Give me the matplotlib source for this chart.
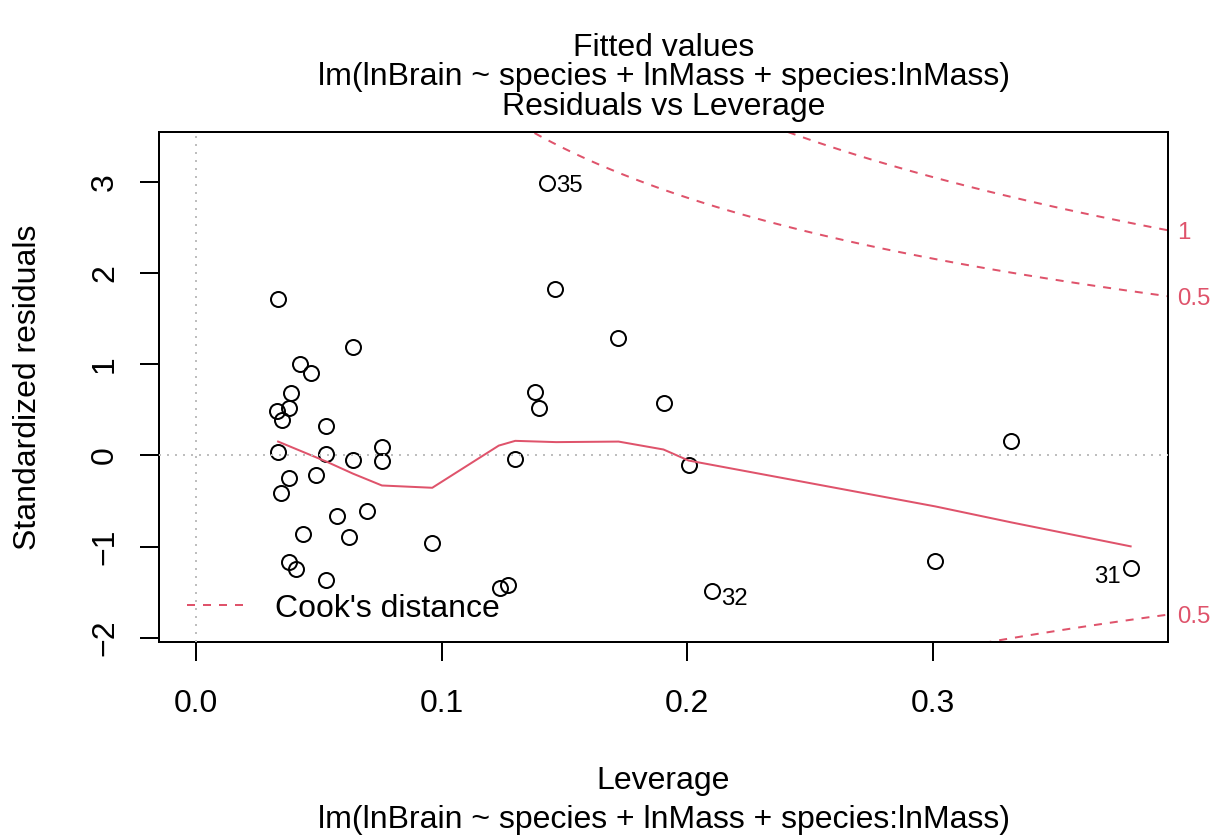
import numpy as np
import matplotlib
matplotlib.use("Agg")
import matplotlib.pyplot as plt
import matplotlib.transforms as mtransforms
from matplotlib.lines import Line2D

# Leverage (hat values) and standardized residuals of the fitted model
leverage = [0.1427, 0.1461, 0.0334, 0.0640, 0.0423, 0.0467, 0.1717, 0.1378,
            0.1396, 0.1903, 0.3320, 0.1300, 0.2005, 0.3011, 0.3806, 0.1237,
            0.1269, 0.2099, 0.0384, 0.0330, 0.0376, 0.0349, 0.0529, 0.0332,
            0.0529, 0.0640, 0.0756, 0.0756, 0.0376, 0.0489, 0.0346, 0.0574,
            0.0695, 0.0621, 0.0433, 0.0961, 0.0376, 0.0404, 0.0529]
std_resid = [2.985, 1.825, 1.715, 1.193, 1.000, 0.905, 1.291, 0.693,
             0.518, 0.573, 0.157, -0.037, -0.103, -1.162, -1.239, -1.450,
             -1.425, -1.483, 0.686, 0.489, 0.521, 0.390, 0.328, 0.036,
             0.018, -0.052, 0.091, -0.066, -0.245, -0.220, -0.410, -0.665,
             -0.607, -0.895, -0.859, -0.957, -1.165, -1.242, -1.370]

# Observation numbers of the most extreme points (index into the arrays above)
id_labels = {0: "35", 17: "32", 14: "31"}

# Lowess smooth through the residuals
smooth_lev = [0.0333, 0.0529, 0.0638, 0.0756, 0.0961, 0.1232, 0.1299,
              0.1466, 0.1720, 0.1903, 0.2005, 0.3011, 0.3320, 0.3806]
smooth_res = [0.152, -0.067, -0.200, -0.330, -0.355, 0.108, 0.160,
              0.146, 0.152, 0.065, -0.056, -0.560, -0.735, -0.998]

# Cook's distance contours
cook_levels = [0.5, 1.0]
n_params = 4

x_ticks = [0.0, 0.1, 0.2, 0.3]
x_tick_labels = ["0.0", "0.1", "0.2", "0.3"]
y_ticks = [-2, -1, 0, 1, 2, 3]
y_tick_labels = [str(v).replace("-", "\u2212") for v in y_ticks]

model_call = "lm(lnBrain ~ species + lnMass + species:lnMass)"
top_title = "Fitted values"
caption = "Residuals vs Leverage"
x_label = "Leverage"
y_label = "Standardized residuals"

RED = "#DF536B"
GRAY = "#BEBEBE"
DPI = 100
W, H = 1216, 836
PT = 72 / DPI            # points per pixel
FS = 32 * PT             # base text size
FS_ID = 24 * PT          # point-label size
LW = 2 * PT

plt.rcParams["font.family"] = ["Liberation Sans", "DejaVu Sans"]
plt.rcParams["axes.unicode_minus"] = True

fig = plt.figure(figsize=(W / DPI, H / DPI), dpi=DPI)
AX_L, AX_R, AX_T, AX_B = 159, 1168, 132, 642
ax = fig.add_axes([AX_L / W, 1 - AX_B / H, (AX_R - AX_L) / W, (AX_B - AX_T) / H])

# axis ranges following R's extendrange conventions
xmax = max(leverage)
ax.set_xlim(-0.04 * xmax, 1.04 * xmax)
r0, r1 = min(std_resid), max(std_resid)
e = 0.08 * (r1 - r0)
y0, y1 = r0 - e, r1 + e
e2 = 0.04 * (y1 - y0)
ax.set_ylim(y0 - e2, y1 + e2)

# points and smoother
ax.plot(leverage, std_resid, linestyle="none", marker="o", ms=15 * PT,
        mfc="none", mec="black", mew=LW, zorder=3)
ax.plot(smooth_lev, smooth_res, color=RED, lw=LW, zorder=3)

# reference lines
ax.axhline(0, color=GRAY, lw=LW, ls=(0, (1, 3)), dash_capstyle="butt", zorder=4)
ax.axvline(0, color=GRAY, lw=LW, ls=(0, (1, 3)), dash_capstyle="butt", zorder=4)

# Cook's distance contours
hh = np.linspace(min(min(leverage), max(leverage) / 100), ax.get_xlim()[1], 101)
for lvl in cook_levels:
    cl = np.sqrt(lvl * n_params * (1 - hh) / hh)
    ax.plot(hh, cl, color=RED, lw=LW, ls=(0, (4, 4)), dash_capstyle="butt", zorder=2)
    ax.plot(hh, -cl, color=RED, lw=LW, ls=(0, (4, 4)), dash_capstyle="butt", zorder=2)

# contour labels on the right margin
h_edge = ax.get_xlim()[1]
ylo, yhi = ax.get_ylim()
trans_r = mtransforms.blended_transform_factory(ax.transAxes, ax.transData)
for lvl in cook_levels:
    aty = np.sqrt(lvl * n_params * (1 - h_edge) / h_edge)
    for yv in (-aty, aty):
        if ylo <= yv <= yhi:
            ax.annotate(f"{lvl:g}", xy=(1, yv), xycoords=trans_r,
                        xytext=(9.5 * PT, -0.358 * FS_ID), textcoords="offset points",
                        ha="left", va="baseline", color=RED, fontsize=FS_ID,
                        annotation_clip=False)

# labels of the extreme observations: right of the point unless it lies in
# the right half of the labelled points' range
id_x = [leverage[i] for i in id_labels]
x_mid = 0.5 * (min(id_x) + max(id_x))
for idx, lab in id_labels.items():
    xv, yv = leverage[idx], std_resid[idx]
    dy = -6 * PT if yv < 0 else 0
    if xv > x_mid:
        dx, ha = -9.5 * PT, "right"
    else:
        dx, ha = 9.5 * PT, "left"
    ax.annotate(lab, xy=(xv, yv), xytext=(dx, dy - 0.358 * FS_ID),
                textcoords="offset points", ha=ha, va="baseline",
                fontsize=FS_ID, color="black", zorder=5)

# legend
handle = Line2D([], [], color=RED, lw=LW, ls=(0, (4, 4)), dash_capstyle="butt")
ax.legend([handle], ["Cook's distance"], loc="lower left", frameon=False,
          fontsize=FS, handlelength=1.75, handletextpad=1.0, borderpad=0,
          borderaxespad=0, bbox_to_anchor=(28 / (AX_R - AX_L), 0.036))

# ticks
ax.set_xticks(x_ticks)
ax.set_xticklabels(x_tick_labels)
ax.set_yticks(y_ticks)
ax.set_yticklabels(y_tick_labels, rotation=90, va="center")
ax.tick_params(axis="both", direction="out", length=19.2 * PT, width=LW,
               labelsize=FS, colors="black")
ax.tick_params(axis="x", pad=28 * PT)
ax.tick_params(axis="y", pad=19.8 * PT)
for sp in ax.spines.values():
    sp.set_linewidth(LW)
    sp.set_color("black")

# titles and axis labels
cx = (AX_L + AX_R) / 2 / W
fig.text(cx, 1 - 56 / H, top_title, ha="center", va="baseline", fontsize=FS)
fig.text(cx, 1 - 85 / H, model_call, ha="center", va="baseline", fontsize=FS)
fig.text(cx, 1 - 115 / H, caption, ha="center", va="baseline", fontsize=FS)
fig.text(cx, 1 - 789.3 / H, x_label, ha="center", va="baseline", fontsize=FS)
fig.text(cx, 1 - 827.7 / H, model_call, ha="center", va="baseline", fontsize=FS)
fig.text(28.4 / W, 1 - ((AX_T + AX_B) / 2) / H, y_label, rotation=90,
         ha="center", va="center", fontsize=FS)

fig.savefig("out.png", dpi=DPI)
